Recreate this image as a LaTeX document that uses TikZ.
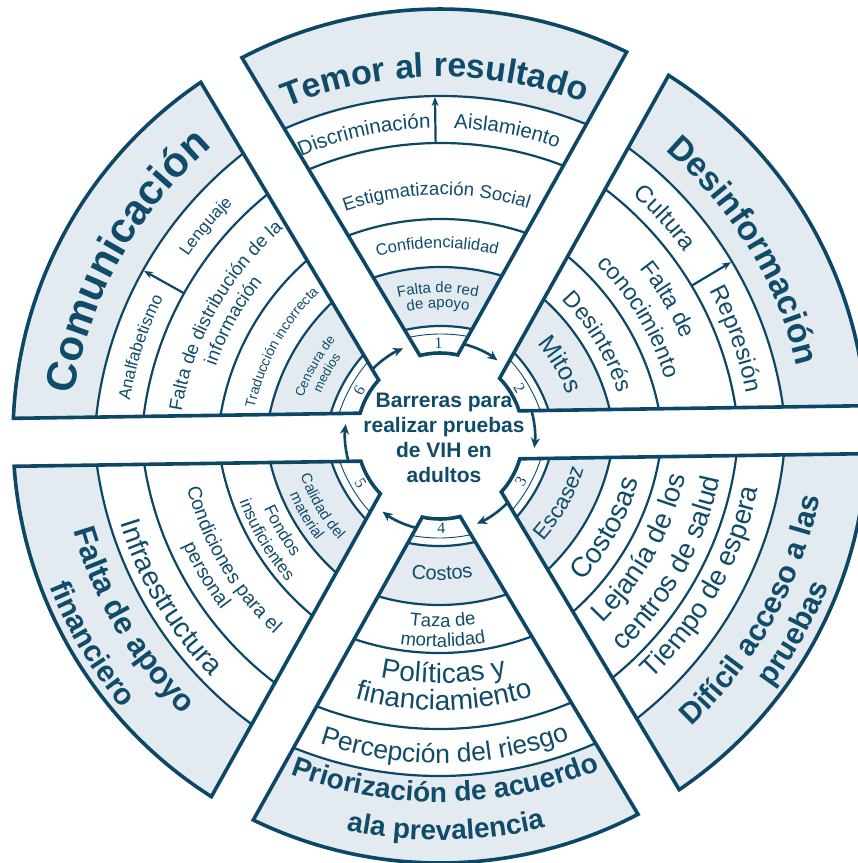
\documentclass[tikz,border=0pt]{standalone}
\usepackage{fontspec}
\setmainfont{Liberation Sans}
\newfontfamily\numfont{Liberation Serif}
\usetikzlibrary{calc,decorations.text,arrows.meta}
\definecolor{tc}{RGB}{16,76,106}
\definecolor{ln}{RGB}{12,72,102}
\definecolor{shd}{RGB}{227,235,241}
\newcommand\curfs{20}
\newcommand\fr{\fontsize{\curfs}{\curfs}\selectfont\mdseries\color{tc}}
\newcommand\fb{\fontsize{\curfs}{\curfs}\selectfont\bfseries\color{tc}}
\newcommand\wpath[1]{(#1+13.2:83) -- (#1+26.78:427) arc[start angle=#1+26.78,end angle=#1-26.78,radius=427] -- (#1-13.2:83) arc[start angle=#1-13.2,end angle=#1+13.2,radius=83] -- cycle}
\newcommand\mkwedge[2]{%
  \coordinate (#2) at (#1+180:48);
  \begin{scope}
    \clip \wpath{#1};
    \fill[shd] (0,0) circle (440);
    \fill[white] (#2) circle (388);
    \fill[shd] (#2) circle (217);
    \fill[white] (#2) circle (158);
    \draw[bandline] (#2) circle (388) (#2) circle (341) (#2) circle (265) (#2) circle (217) (#2) circle (158);
    \draw[thinline] (#2) circle (150);
  \end{scope}
  \draw[wedgeline] \wpath{#1};}
\newcommand\tcw[5]{\def\curfs{#4}\path[decorate,decoration={text along path,text align=center,text={#5}}] ($(#1)+(#3+60:#2)$) arc[start angle=#3+60,end angle=#3-60,radius=#2];}
\newcommand\tccw[5]{\def\curfs{#4}\path[decorate,decoration={text along path,text align=center,text={#5}}] ($(#1)+(#3-60:#2)$) arc[start angle=#3-60,end angle=#3+60,radius=#2];}
\tikzset{
  wedgeline/.style={draw=ln, line width=3.6pt},
  bandline/.style={draw=ln, line width=2.2pt},
  thinline/.style={draw=ln, line width=0.9pt},
  ringarrow/.style={draw=ln, line width=2.6pt, -{Stealth[length=10pt,width=9pt]}},
  divarrow/.style={draw=ln, line width=2.2pt, -{Stealth[length=9pt,width=7pt]}},
  numlabel/.style={text=tc, font=\numfont\fontsize{16}{16}\selectfont, inner sep=0pt},
  centerlabel/.style={text=tc, align=center, font=\bfseries\fontsize{21}{25}\selectfont, inner sep=0pt}
}
\begin{document}
\begin{tikzpicture}[x=1pt,y=1pt]
\useasboundingbox (-440,-427) rectangle (418,436);
\clip (-440,-427) rectangle (418,436);
\fill[white] (-440,-427) rectangle (418,436);
\begin{scope}[rotate=0.85]
  \mkwedge{90}{C1}
  \mkwedge{30}{C2}
  \mkwedge{330}{C3}
  \mkwedge{270}{C4}
  \mkwedge{210}{C5}
  \mkwedge{150}{C6}
  % divider arrows
  \draw[divarrow] ($(C1)+(90:341)$) -- ($(C1)+(90:387)$);
  \draw[divarrow] ($(C2)+(30:341)$) -- ($(C2)+(30:387)$);
  \draw[divarrow] ($(C6)+(150:341)$) -- ($(C6)+(150:387)$);
  % ring arrows
  \foreach \b in {0,60,...,300}
    \draw[ringarrow] (\b+14.5:95) arc[start angle=\b+14.5, end angle=\b-8, radius=95];
  % numbers
  \node[numlabel, rotate=0.85] (n1) at (90:92.5) {1};
  \node[numlabel, rotate=-59.15] (n2) at (30:92.5) {2};
  \node[numlabel, rotate=60.85] (n3) at (330:92.5) {3};
  \node[numlabel, rotate=0.85] (n4) at (270:92.5) {4};
  \node[numlabel, rotate=-59.15] (n5) at (210:92.5) {5};
  \node[numlabel, rotate=60.85] (n6) at (150:92.5) {6};
  % wedge 1
  \tcw{C1}{407}{90}{34}{|\fb|Temor al resultado}
  \tcw{C1}{356}{101.5}{20.5}{|\fr|Discriminación}
  \tcw{C1}{356}{78.5}{20.5}{|\fr|Aislamiento}
  \tcw{C1}{289}{90}{18.6}{|\fr|Estigmatización Social}
  \tcw{C1}{236}{90}{16.4}{|\fr|Confidencialidad}
  \tcw{C1}{191}{90}{15}{|\fr|Falta de red}
  \tcw{C1}{176}{90}{15}{|\fr|de apoyo}
  % wedge 6
  \tcw{C6}{413}{150}{42}{|\fb|Comunicación}
  \tcw{C6}{357}{161}{17}{|\fr|Analfabetismo}
  \tcw{C6}{357}{139}{17}{|\fr|Lenguaje}
  \tcw{C6}{304}{150}{18.7}{|\fr|Falta de distribución de la}
  \tcw{C6}{282}{150}{18.7}{|\fr|información}
  \tcw{C6}{233}{150}{14}{|\fr|Traducción incorrecta}
  \tcw{C6}{189}{150}{13}{|\fr|Censura de}
  \tcw{C6}{174}{150}{13}{|\fr|medios}
  % wedge 2
  \tcw{C2}{409}{30.5}{34}{|\fb|Desinformación}
  \tcw{C2}{354}{41.5}{24}{|\fr|Cultura}
  \tcw{C2}{354}{19}{24}{|\fr|Represión}
  \tcw{C2}{308}{30}{23}{|\fr|Falta de}
  \tcw{C2}{279}{30}{23}{|\fr|conocimiento}
  \tcw{C2}{229}{30}{23}{|\fr|Desinterés}
  \tcw{C2}{181}{30}{25}{|\fr|Mitos}
  % wedge 3
  \tccw{C3}{194}{330}{22}{|\fr|Escasez}
  \tccw{C3}{250}{330}{28}{|\fr|Costosas}
  \tccw{C3}{294}{330}{27.5}{|\fr|Lejanía de los}
  \tccw{C3}{328}{330}{27.5}{|\fr|centros de salud}
  \tccw{C3}{368}{330}{27.5}{|\fr|Tiempo de espera}
  \tccw{C3}{430}{330}{30}{|\fb|Difícil acceso a las}
  \tccw{C3}{464}{330}{30}{|\fb|pruebas}
  % wedge 4
  \tccw{C4}{192}{270}{20}{|\fr|Costos}
  \tccw{C4}{239}{270}{18.5}{|\fr|Taza de}
  \tccw{C4}{259}{270}{18.5}{|\fr|mortalidad}
  \tccw{C4}{295}{270}{28}{|\fr|Políticas y}
  \tccw{C4}{322}{270}{28}{|\fr|financiamiento}
  \tccw{C4}{375}{270}{26.5}{|\fr|Percepción del riesgo}
  \tccw{C4}{414}{270}{28}{|\fb|Priorización de acuerdo}
  \tccw{C4}{452}{270}{28}{|\fb|ala prevalencia}
  % wedge 5
  \tccw{C5}{192}{210}{15}{|\fr|Calidad del}
  \tccw{C5}{209}{210}{15}{|\fr|material}
  \tccw{C5}{238}{210}{17}{|\fr|Fondos}
  \tccw{C5}{258}{210}{17}{|\fr|insuficientes}
  \tccw{C5}{304}{210}{19.5}{|\fr|Condiciones para el}
  \tccw{C5}{327}{210}{19.5}{|\fr|personal}
  \tccw{C5}{378}{210}{28}{|\fr|Infraestructura}
  \tccw{C5}{425}{210}{31}{|\fb|Falta de apoyo}
  \tccw{C5}{466}{210}{30}{|\fb|financiero}
\end{scope}
\node[centerlabel] (ctr) at (4,-2) {Barreras para\\realizar pruebas\\de VIH en\\adultos};
\end{tikzpicture}
\end{document}
